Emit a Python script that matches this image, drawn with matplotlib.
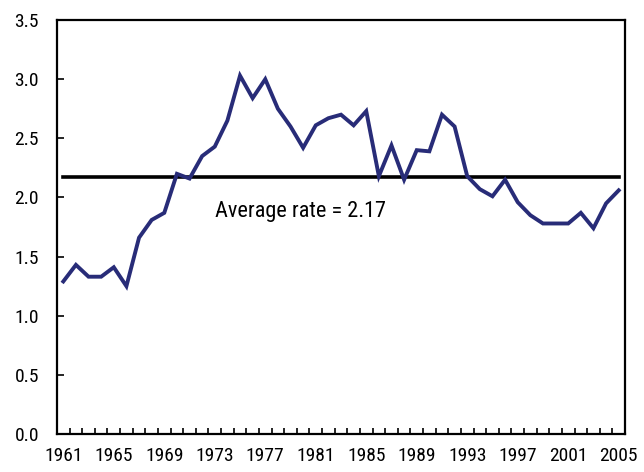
import matplotlib
matplotlib.use("Agg")
import matplotlib.pyplot as plt
from matplotlib import font_manager as fm
import numpy as np

years = list(range(1961, 2006))
rates = [1.29, 1.43, 1.33, 1.33, 1.41, 1.25, 1.66, 1.81, 1.87, 2.20,
         2.16, 2.35, 2.43, 2.65, 3.03, 2.84, 3.00, 2.75, 2.60, 2.42,
         2.61, 2.67, 2.70, 2.61, 2.73, 2.18, 2.44, 2.15, 2.40, 2.39,
         2.70, 2.60, 2.18, 2.07, 2.01, 2.15, 1.96, 1.85, 1.78, 1.78,
         1.78, 1.87, 1.74, 1.95, 2.06]
average = 2.17
label_years = list(range(1961, 2006, 4))
y_ticks = [0.0, 0.5, 1.0, 1.5, 2.0, 2.5, 3.0, 3.5]

available = {f.name for f in fm.fontManager.ttflist}
chosen = [n for n in ['Roboto Condensed', 'Archivo Narrow', 'PT Sans Narrow']
          if n in available][:1]
plt.rcParams['font.family'] = chosen + ['DejaVu Sans']

fig = plt.figure(figsize=(6.44, 4.72), dpi=100)
ax = fig.add_axes([0.0885, 0.0805, 0.882, 0.877])

x = np.arange(len(years))
ax.plot(x, rates, color='#282C78', lw=2.8, solid_joinstyle='miter', zorder=3)
ax.plot([x[0], x[-1]], [average, average], color='black', lw=2.6, zorder=2)
ax.text(years.index(1973), 1.885, f"Average rate = {average}", fontsize=16,
        ha='left', va='center')

ax.set_xlim(-0.5, len(years) - 0.5)
ax.set_ylim(0, 3.5)
ax.set_yticks(y_ticks)
ax.set_yticklabels([f"{v:.1f}" for v in y_ticks])
ax.set_xticks([years.index(yy) for yy in label_years])
ax.set_xticklabels([str(yy) for yy in label_years])
ax.set_xticks(np.arange(-0.5, len(years)), minor=True)
ax.tick_params(axis='x', which='major', length=0, pad=9, labelsize=14)
ax.tick_params(axis='x', which='minor', direction='in', length=4, width=1.2)
ax.tick_params(axis='y', which='major', direction='in', length=5, width=1.2,
               pad=13, labelsize=14)
for s in ax.spines.values():
    s.set_linewidth(1.6)

fig.savefig("out.png", dpi=100)
